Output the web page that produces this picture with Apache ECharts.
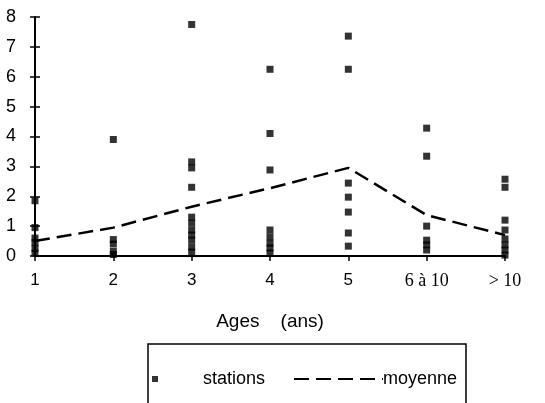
<!DOCTYPE html>
<html>
<head>
<meta charset="utf-8">
<script src="https://cdn.jsdelivr.net/npm/echarts@6/dist/echarts.min.js"></script>
<style>html,body{margin:0;padding:0;background:#fff}#c{width:545px;height:403px}</style>
</head>
<body>
<div id="c"></div>
<script>
var categories = ['1', '2', '3', '4', '5', '6 à 10', '> 10'];
var stationsAge1 = [1.85, 0.95, 0.6, 0.45, 0.25, 0.1];
var stationsAge2 = [3.9, 0.55, 0.4, 0.15, 0.05];
var stationsAge3 = [7.75, 3.15, 2.95, 2.3, 1.3, 1.1, 0.87, 0.7, 0.53, 0.3, 0.13];
var stationsAge4 = [6.25, 4.1, 2.88, 0.87, 0.64, 0.43, 0.27, 0.1];
var stationsAge5 = [7.36, 6.25, 2.44, 1.97, 1.47, 0.77, 0.33];
var stationsAge6to10 = [4.28, 3.34, 1.0, 0.53, 0.37, 0.2];
var stationsAgeOver10 = [2.57, 2.3, 1.2, 0.87, 0.57, 0.37, 0.2, 0.03];
var moyenne = [0.5, 0.95, 1.65, 2.27, 2.95, 1.37, 0.7];
var yTicks = [0, 1, 2, 3, 4, 5, 6, 7, 8];

var columns = [stationsAge1, stationsAge2, stationsAge3, stationsAge4, stationsAge5, stationsAge6to10, stationsAgeOver10];
var stationPoints = [];
columns.forEach(function (col, i) {
  col.forEach(function (v) { stationPoints.push([categories[i], v]); });
});

var font = 'Liberation Sans, Arial, sans-serif';
var serif = 'Liberation Serif, Times New Roman, serif';
var chart = echarts.init(document.getElementById('c'), null, {renderer: 'canvas'});
chart.setOption({
  backgroundColor: '#ffffff',
  animation: false,
  grid: {left: 35, right: 40, top: 17, bottom: 147, containLabel: false},
  xAxis: {
    type: 'category',
    data: categories,
    boundaryGap: false,
    name: 'Ages    (ans)',
    nameLocation: 'middle',
    nameGap: 56,
    nameTextStyle: {color: '#000', fontSize: 19, fontFamily: font},
    axisLine: {lineStyle: {color: '#000', width: 2}},
    axisTick: {show: true, length: 5, lineStyle: {color: '#000', width: 1.5}},
    axisLabel: {
      color: '#000', fontSize: 17, fontFamily: font, margin: 16, interval: 0,
      formatter: function (v) { return /^[0-9]$/.test(v) ? v : '{s|' + v + '}'; },
      rich: {s: {fontFamily: serif, fontSize: 18, color: '#000'}}
    },
    splitLine: {show: false}
  },
  yAxis: [{
    type: 'value',
    min: yTicks[0],
    max: yTicks[yTicks.length - 1],
    interval: 1,
    axisLine: {show: true, lineStyle: {color: '#000', width: 2}},
    axisTick: {show: true, length: 5, lineStyle: {color: '#000', width: 1.5}},
    axisLabel: {color: '#000', fontSize: 18, fontFamily: font, margin: 19},
    splitLine: {show: false}
  }, {
    type: 'value',
    position: 'left',
    min: yTicks[0],
    max: yTicks[yTicks.length - 1],
    interval: 1,
    axisLine: {show: false},
    axisTick: {show: true, inside: true, length: 5, lineStyle: {color: '#000', width: 1.5}},
    axisLabel: {show: false},
    splitLine: {show: false}
  }],
  legend: [{
    data: [{name: 'stations', icon: 'rect'}],
    left: 147,
    top: 365,
    itemWidth: 6,
    itemHeight: 6,
    textStyle: {color: '#000', fontSize: 18, fontFamily: font, padding: [0, 0, 0, 40]}
  }, {
    data: ['moyenne'],
    left: 288,
    top: 365,
    itemWidth: 89,
    itemHeight: 14,
    itemGap: 0,
    itemStyle: {opacity: 0},
    textStyle: {color: '#000', fontSize: 18, fontFamily: font, padding: [0, 0, 0, -5]}
  }],
  graphic: [{
    type: 'rect',
    shape: {x: 148, y: 344, width: 318, height: 80},
    style: {fill: 'none', stroke: '#000', lineWidth: 1.5},
    silent: true
  }],
  series: [{
    name: 'stations',
    type: 'scatter',
    data: stationPoints,
    symbol: 'rect',
    symbolSize: 7,
    itemStyle: {color: '#000'},
    z: 3
  }, {
    name: 'moyenne',
    type: 'line',
    data: moyenne,
    symbol: 'none',
    lineStyle: {color: '#000', width: 2.5, type: [15, 7]},
    itemStyle: {color: '#000'},
    z: 2
  }]
});
</script>
</body>
</html>
